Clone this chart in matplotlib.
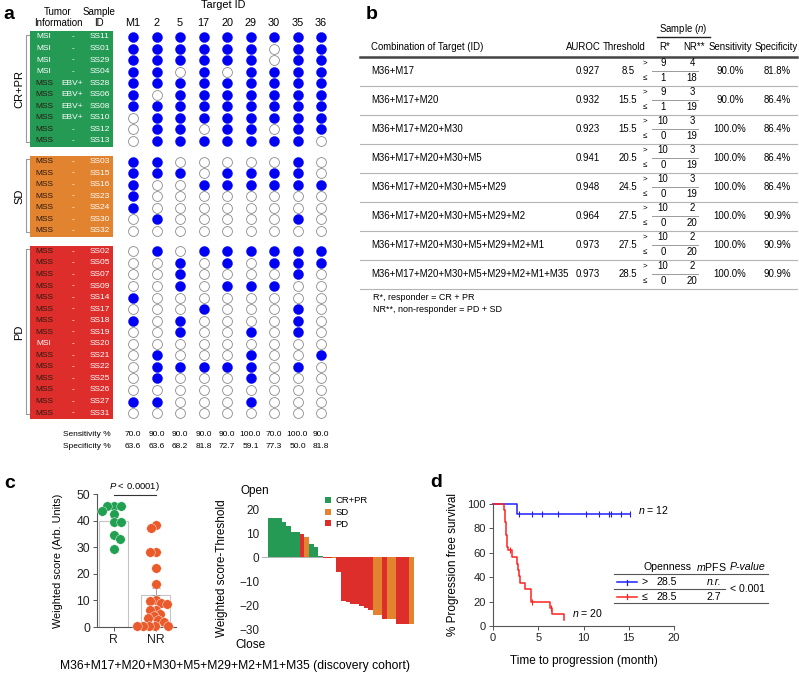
import numpy as np
import matplotlib
matplotlib.use("Agg")
import matplotlib.pyplot as plt
from matplotlib.patches import Rectangle, Patch

plt.rcParams['font.family'] = ['Liberation Sans', 'DejaVu Sans']
plt.rcParams['mathtext.fontset'] = 'custom'
plt.rcParams['mathtext.rm'] = 'Liberation Sans'
plt.rcParams['mathtext.it'] = 'Liberation Sans:italic'

W, H = 799, 677

# ---------------- panel a data ----------------
targets = ["M1", "2", "5", "17", "20", "29", "30", "35", "36"]

cr_ids = ["SS11", "SS01", "SS29", "SS04", "SS28", "SS06", "SS08", "SS10", "SS12", "SS13"]
cr_msi = ["MSI", "MSI", "MSI", "MSI", "MSS", "MSS", "MSS", "MSS", "MSS", "MSS"]
cr_ebv = ["-", "-", "-", "-", "EBV+", "EBV+", "EBV+", "EBV+", "-", "-"]
cr_hits = [[1, 1, 1, 1, 1, 1, 1, 1, 1],
           [1, 1, 1, 1, 1, 1, 0, 1, 1],
           [1, 1, 1, 1, 1, 1, 0, 1, 1],
           [1, 1, 0, 1, 0, 1, 1, 1, 1],
           [1, 1, 1, 1, 1, 1, 1, 1, 1],
           [1, 0, 1, 1, 1, 1, 1, 1, 1],
           [1, 1, 1, 1, 1, 1, 1, 1, 1],
           [0, 1, 1, 1, 1, 1, 1, 1, 1],
           [0, 1, 1, 0, 1, 1, 0, 1, 1],
           [0, 1, 1, 1, 1, 1, 1, 1, 0]]

sd_ids = ["SS03", "SS15", "SS16", "SS23", "SS24", "SS30", "SS32"]
sd_msi = ["MSS"] * 7
sd_ebv = ["-"] * 7
sd_hits = [[1, 1, 0, 0, 0, 0, 0, 1, 0],
           [1, 1, 1, 0, 1, 1, 1, 1, 0],
           [1, 0, 0, 1, 1, 1, 1, 1, 1],
           [1, 0, 0, 0, 0, 0, 0, 0, 0],
           [1, 0, 0, 0, 0, 0, 0, 0, 0],
           [0, 1, 0, 0, 0, 0, 0, 1, 0],
           [0, 0, 0, 0, 0, 0, 0, 0, 0]]

pd_ids = ["SS02", "SS05", "SS07", "SS09", "SS14", "SS17", "SS18", "SS19",
          "SS20", "SS21", "SS22", "SS25", "SS26", "SS27", "SS31"]
pd_msi = ["MSS"] * 8 + ["MSI"] + ["MSS"] * 6
pd_ebv = ["-"] * 15
pd_hits = [[0, 1, 0, 1, 1, 1, 1, 1, 1],
           [0, 0, 1, 0, 1, 0, 1, 1, 1],
           [0, 0, 1, 0, 0, 0, 0, 1, 0],
           [0, 0, 1, 0, 1, 1, 1, 0, 0],
           [1, 0, 0, 0, 0, 0, 0, 0, 0],
           [0, 0, 0, 1, 0, 0, 0, 1, 0],
           [1, 0, 1, 0, 0, 0, 0, 1, 0],
           [0, 0, 1, 0, 0, 1, 0, 1, 0],
           [0, 0, 0, 0, 0, 0, 0, 0, 0],
           [0, 1, 0, 0, 0, 1, 0, 0, 1],
           [0, 1, 1, 1, 1, 1, 0, 1, 0],
           [0, 1, 0, 0, 0, 1, 0, 0, 0],
           [0, 0, 0, 0, 0, 0, 0, 0, 0],
           [1, 1, 0, 0, 0, 1, 0, 0, 0],
           [0, 0, 0, 0, 0, 0, 0, 0, 0]]

sensitivity = [70.0, 90.0, 90.0, 90.0, 90.0, 100.0, 70.0, 100.0, 90.0]
specificity = [63.6, 63.6, 68.2, 81.8, 72.7, 59.1, 77.3, 50.0, 81.8]

# ---------------- panel b data ----------------
combos = ["M36+M17", "M36+M17+M20", "M36+M17+M20+M30", "M36+M17+M20+M30+M5",
          "M36+M17+M20+M30+M5+M29", "M36+M17+M20+M30+M5+M29+M2",
          "M36+M17+M20+M30+M5+M29+M2+M1", "M36+M17+M20+M30+M5+M29+M2+M1+M35"]
auroc = [0.927, 0.932, 0.923, 0.941, 0.948, 0.964, 0.973, 0.973]
threshold = [8.5, 15.5, 15.5, 20.5, 24.5, 27.5, 27.5, 28.5]
r_above = [9, 9, 10, 10, 10, 10, 10, 10]
r_below = [1, 1, 0, 0, 0, 0, 0, 0]
nr_above = [4, 3, 3, 3, 3, 2, 2, 2]
nr_below = [18, 19, 19, 19, 19, 20, 20, 20]
sens_b = [90.0, 90.0, 100.0, 100.0, 100.0, 100.0, 100.0, 100.0]
spec_b = [81.8, 86.4, 86.4, 86.4, 86.4, 90.9, 90.9, 90.9]

# ---------------- panel c data ----------------
r_scores = [45.5, 45.5, 45.5, 43.5, 42.5, 39.5, 39.5, 34.5, 33.0, 29.5]
nr_scores = [38.5, 37.2, 28.2, 28.2, 22.2, 16.2, 10.3, 9.6, 9.0, 8.5, 6.5, 6.3,
             5.0, 4.3, 3.5, 2.5, 2.0, 0.5, 0.4, 0.4, 0.3, 0.3]
bar_means = [39.7, 12.2]
bar_sem = [1.7, 2.6]

wf_vals = [16.4, 16.4, 16.4, 14.4, 13.0, 10.3, 10.3, 9.4, 8.5, 5.4, 4.3, 0.4,
           -0.4, -0.4, -0.4, -6.4, -18.2, -18.9, -19.5, -19.5, -20.3, -21.2, -22.2,
           -24.2, -24.2, -26.0, -26.0, -26.0, -28.1, -28.1, -28.1, -28.1]
wf_resp = ["CR+PR"] * 7 + ["PD", "SD", "CR+PR", "CR+PR", "CR+PR", "PD", "PD", "SD"] \
    + ["PD"] * 8 + ["SD", "SD", "PD", "SD", "SD", "PD", "PD", "PD", "SD"]

# ---------------- panel d data ----------------
hi_t = [0, 2.6, 15.1]
hi_s = [100, 91.7, 91.7]
hi_cens = [2.9, 4.3, 5.45, 7.15, 10.3, 11.75, 12.8, 13.0, 14.1, 15.1]
lo_t = [0, 1.25, 1.3, 1.35, 1.4, 1.45, 1.5, 1.55, 1.65, 2.15, 2.7, 2.8, 2.9, 3.0,
        3.55, 4.15, 4.2, 6.3, 6.5, 7.9]
lo_s = [100, 95, 90, 85, 80, 75, 70, 65, 61.9, 56.4, 51, 46, 41, 35.6,
        30.4, 25, 20, 15, 10, 5]
lo_cens = [1.9, 4.3, 6.4]

green = "#249a55"
orange = "#e2832f"
red = "#dd2e2c"
resp_col = {"CR+PR": green, "SD": orange, "PD": red}

fig = plt.figure(figsize=(W / 100, H / 100), dpi=100)


def px_axes(x0, y0, x1, y1):
    ax = fig.add_axes([x0 / W, 1 - y1 / H, (x1 - x0) / W, (y1 - y0) / H])
    ax.patch.set_alpha(0)
    return ax


cv = fig.add_axes([0, 0, 1, 1])
cv.set_xlim(0, W)
cv.set_ylim(H, 0)
cv.axis('off')
cv.set_zorder(10)

# ================= panel a =================
col_x0, col_dx = 133, 23.5
row_y0, row_dy = 37, 11.55
gap = 0.78


def axx(p):
    return (p - col_x0) / col_dx


def axy(p):
    return (p - row_y0) / row_dy


ax_a = px_axes(0, 0, 345, 455)
ax_a.set_xlim(axx(0), axx(345))
ax_a.set_ylim(axy(455), axy(0))
ax_a.axis('off')

cv.text(3, 19, "a", fontsize=14, fontweight='bold', ha='left', va='baseline')
ax_a.text(axx(223), axy(5), "Target ID", fontsize=7.8, ha='center', va='center')
ax_a.text(axx(58), axy(12), "Tumor", fontsize=7, ha='center', va='center')
ax_a.text(axx(58), axy(23), "Information", fontsize=7, ha='center', va='center')
ax_a.text(axx(99), axy(12), "Sample", fontsize=7, ha='center', va='center')
ax_a.text(axx(99), axy(23), "ID", fontsize=7, ha='center', va='center')
for j, t in enumerate(targets):
    ax_a.text(j, axy(23), t, fontsize=7.8, ha='center', va='center')

groups_a = [("CR+PR", cr_ids, cr_msi, cr_ebv, cr_hits),
            ("SD", sd_ids, sd_msi, sd_ebv, sd_hits),
            ("PD", pd_ids, pd_msi, pd_ebv, pd_hits)]
start = 0
for g, (name, ids, msi, ebv, hits) in enumerate(groups_a):
    ys = np.arange(len(ids)) + start + gap * g
    start += len(ids)
    ax_a.add_patch(Rectangle((axx(30), ys[0] - 0.5), axx(113) - axx(30), len(ids),
                             facecolor=resp_col[name], edgecolor='none'))
    for y, sid, m, e in zip(ys, ids, msi, ebv):
        ax_a.text(axx(44), y, m, fontsize=6, ha='center', va='center',
                  color='white' if m == "MSI" else '#2a1a12')
        ax_a.text(axx(72.5), y, e, fontsize=6, ha='center', va='center', color='white')
        ax_a.text(axx(100), y, sid, fontsize=6, ha='center', va='center', color='white')
    hits = np.array(hits)
    xx, yy = np.meshgrid(np.arange(len(targets)), ys)
    on = hits == 1
    ax_a.scatter(xx[on], yy[on], s=52, color='#0000f5', edgecolors='#0000f5',
                 linewidths=0.3, zorder=3)
    ax_a.scatter(xx[~on], yy[~on], s=50, facecolors='white', edgecolors='#8a8a8a',
                 linewidths=0.6, zorder=3)
    bx, tx = axx(25.5), axx(28.5)
    ax_a.plot([tx, bx, bx, tx], [ys[0] - 0.2, ys[0] - 0.2, ys[-1] + 0.1, ys[-1] + 0.1],
              color='#9a9a9a', lw=0.8)
    ax_a.text(axx(19), ys.mean(), name, rotation=90, fontsize=8, ha='center', va='center')

ax_a.text(axx(63), axy(434), "Sensitivity %", fontsize=6, ha='left', va='center')
ax_a.text(axx(63), axy(447), "Specificity %", fontsize=6, ha='left', va='center')
for j in range(len(targets)):
    ax_a.text(j, axy(434), f"{sensitivity[j]:.1f}", fontsize=6, ha='center', va='center')
    ax_a.text(j, axy(447), f"{specificity[j]:.1f}", fontsize=6, ha='center', va='center')

# ================= panel b =================
fs_b = 6.9
cv.text(366, 19, "b", fontsize=14, fontweight='bold', ha='left', va='baseline')
cv.text(683, 29, "Sample ($n$)", fontsize=fs_b, ha='center', va='center')
cv.plot([657, 710], [36.5, 36.5], color='#222222', lw=1.0)
heads = [(371, "Combination of Target (ID)", 'left'), (583, "AUROC", 'center'),
         (624, "Threshold", 'center'), (665, "R*", 'center'), (694, "NR**", 'center'),
         (730, "Sensitivity", 'center'), (776, "Specificity", 'center')]
for x, t, ha in heads:
    cv.text(x, 47, t, fontsize=fs_b, ha=ha, va='center')
cv.plot([360, 797], [57, 57], color='#444444', lw=1.8)
row_h = 29.05
for i in range(len(combos)):
    yc = 57 + row_h * (i + 0.5) - 1
    cv.text(371, yc, combos[i], fontsize=fs_b, ha='left', va='center')
    cv.text(588, yc, f"{auroc[i]:.3f}", fontsize=fs_b, ha='center', va='center')
    cv.text(628, yc, f"{threshold[i]:.1f}", fontsize=fs_b, ha='center', va='center')
    cv.text(645, yc - 7.5, ">", fontsize=5.8, ha='center', va='center')
    cv.text(645, yc + 7.5, "\u2264", fontsize=5.8, ha='center', va='center')
    cv.text(663, yc - 7.5, str(r_above[i]), fontsize=fs_b, ha='center', va='center')
    cv.text(663, yc + 7.5, str(r_below[i]), fontsize=fs_b, ha='center', va='center')
    cv.text(692, yc - 7.5, str(nr_above[i]), fontsize=fs_b, ha='center', va='center')
    cv.text(692, yc + 7.5, str(nr_below[i]), fontsize=fs_b, ha='center', va='center')
    cv.plot([652, 698], [yc + 0.5, yc + 0.5], color='#9a9a9a', lw=0.7)
    cv.text(730, yc, f"{sens_b[i]:.1f}%", fontsize=fs_b, ha='center', va='center')
    cv.text(777, yc, f"{spec_b[i]:.1f}%", fontsize=fs_b, ha='center', va='center')
    sep = 57 + row_h * (i + 1)
    cv.plot([360, 797], [sep, sep], color='#b4b4b4', lw=0.8)
cv.text(373, 297, "R*, responder = CR + PR", fontsize=6.5, ha='left', va='center')
cv.text(373, 310, "NR**, non-responder = PD + SD", fontsize=6.5, ha='left', va='center')

# ================= panel c (scores) =================
cv.text(4, 488, "c", fontsize=14, fontweight='bold', ha='left', va='baseline')
ax_c = px_axes(97, 494, 176, 627)
ax_c.set_xlim(-0.393, 1.487)
ax_c.set_ylim(0, 50)
ax_c.bar([0, 1], bar_means, width=0.67, facecolor='white', edgecolor='#c4c4c4',
         linewidth=0.8, zorder=1)
ax_c.errorbar([0, 1], bar_means, yerr=[[0, 0], bar_sem], fmt='none', ecolor='#9a9a9a',
              elinewidth=0.7, capsize=3, capthick=0.7, zorder=1)


def swarm(vals, yscale, min_d):
    placed = []
    offs = np.zeros(len(vals))
    steps = np.arange(0.5, 60, 0.5)
    for i, v in enumerate(vals):
        y = v * yscale
        cands = [0.0]
        for k in steps:
            cands += [k, -k] if i % 2 == 0 else [-k, k]
        for c in cands:
            if all((c - a) ** 2 + (y - b) ** 2 >= min_d ** 2 for a, b in placed):
                offs[i] = c
                placed.append((c, y))
                break
    return offs


xscale = 79 / 1.88
yscale = 133 / 50
xr = 0 + swarm(r_scores, yscale, 7.0) / xscale
xn = 1 + swarm(nr_scores, yscale, 6.0) / xscale
ax_c.scatter(xr, r_scores, s=47, color='#22a052', edgecolors='white', linewidths=0.3,
             zorder=3, clip_on=False)
ax_c.scatter(xn, nr_scores, s=47, color='#ea5a2b', edgecolors='white', linewidths=0.3,
             zorder=3, clip_on=False)
ax_c.plot([0, 1], [49.6, 49.6], color='#333333', lw=0.8, clip_on=False)
ax_c.text(0.5, 52.8, "$P$ < 0.0001)", fontsize=6.8, ha='center', va='center')
for s in ['top', 'right']:
    ax_c.spines[s].set_visible(False)
for s in ['left', 'bottom']:
    ax_c.spines[s].set_color('#555555')
    ax_c.spines[s].set_linewidth(0.8)
ax_c.set_yticks(range(0, 51, 10))
ax_c.set_xticks([0, 1])
ax_c.set_xticklabels(["R", "NR"])
ax_c.tick_params(labelsize=8.8, length=3, width=0.7, color='#555555', pad=2,
                 labelcolor='#222222')
ax_c.set_ylabel("Weighted score (Arb. Units)", fontsize=7.8)
ax_c.yaxis.set_label_coords(-0.43, 0.5)

# ================= panel c (waterfall) =================
ax_w = px_axes(262, 506.6, 414, 629)
ax_w.set_xlim(-1.8, 31.5)
ax_w.set_ylim(-30, 21)
ax_w.bar(np.arange(len(wf_vals)), wf_vals, width=1.0,
         color=[resp_col[r] for r in wf_resp], linewidth=0, zorder=2)
ax_w.axhline(0, color='#b0b0b0', lw=0.7, zorder=1)
for s in ax_w.spines.values():
    s.set_visible(False)
ax_w.set_xticks([])
ax_w.set_yticks([20, 10, 0, -10, -20, -30])
ax_w.tick_params(axis='y', length=0, labelsize=8.5, pad=2, labelcolor='#222222')
ax_w.set_ylabel("Weighted score-Threshold", fontsize=8.5)
ax_w.yaxis.set_label_coords(-0.225, 0.5)
handles = [Patch(facecolor=resp_col[k], edgecolor='none') for k in ["CR+PR", "SD", "PD"]]
ax_w.legend(handles, ["CR+PR", "SD", "PD"], loc='upper left', frameon=False,
            fontsize=6.8, handlelength=0.6, handleheight=0.6, handletextpad=0.5,
            labelspacing=0.3, borderpad=0, borderaxespad=0,
            bbox_to_anchor=(325 / W, 1 - 496 / H), bbox_transform=fig.transFigure)
cv.text(255, 491, "Open", fontsize=8.5, ha='center', va='center')
cv.text(250, 645, "Close", fontsize=8.5, ha='center', va='center')

cv.text(235, 666, "M36+M17+M20+M30+M5+M29+M2+M1+M35 (discovery cohort)",
        fontsize=8.7, ha='center', va='center')

# ================= panel d =================
cv.text(430, 487, "d", fontsize=14, fontweight='bold', ha='left', va='baseline')
ax_d = px_axes(493, 504, 674, 626)
ax_d.set_xlim(0, 20)
ax_d.set_ylim(0, 100)
blue = "#1f1fff"
red_k = "#ff2222"
ax_d.step(hi_t, hi_s, where='post', color=blue, lw=1.1, clip_on=False)
ax_d.step(lo_t, lo_s, where='post', color=red_k, lw=1.1, clip_on=False)


def step_val(ts, ss, t):
    return ss[np.searchsorted(ts, t, side='right') - 1]


ax_d.plot(hi_cens, [step_val(hi_t, hi_s, t) for t in hi_cens], linestyle='none',
          marker='|', ms=4, mew=0.8, color=blue, clip_on=False)
ax_d.plot(lo_cens, [step_val(lo_t, lo_s, t) for t in lo_cens], linestyle='none',
          marker='|', ms=4, mew=0.8, color=red_k, clip_on=False)
for s in ['top', 'right']:
    ax_d.spines[s].set_visible(False)
for s in ['left', 'bottom']:
    ax_d.spines[s].set_color('#555555')
    ax_d.spines[s].set_linewidth(0.8)
ax_d.set_xticks([0, 5, 10, 15, 20])
ax_d.set_yticks([0, 20, 40, 60, 80, 100])
ax_d.tick_params(labelsize=8, length=3, width=0.7, color='#555555', pad=2,
                 labelcolor='#222222')
ax_d.set_xlabel("Time to progression (month)", fontsize=8.5)
ax_d.xaxis.set_label_coords(0.5, -0.24)
ax_d.set_ylabel("% Progression free survival", fontsize=8.5)
ax_d.yaxis.set_label_coords(-0.19, 0.5)

cv.text(638, 510, "$n$ = 12", fontsize=7.6, ha='left', va='center')
cv.text(572, 613, "$n$ = 20", fontsize=7.6, ha='left', va='center')

# legend table
fs_d = 7.6
cv.text(667, 567, "Openness", fontsize=fs_d, ha='center', va='center')
cv.text(711, 567, "$m$PFS", fontsize=fs_d, ha='center', va='center')
cv.text(748, 567, "P-value", fontsize=fs_d, ha='center', va='center', style='italic')
cv.plot([614, 768], [574, 574], color='#555555', lw=0.8)
cv.plot([614, 725], [589, 589], color='#555555', lw=0.8)
cv.plot([614, 768], [602.5, 602.5], color='#555555', lw=0.8)
for y, col, sym, mp in [(582, blue, ">", "n.r."), (596.5, red_k, "\u2264", "2.7")]:
    cv.plot([617, 637], [y, y], color=col, lw=1.1)
    cv.plot([627, 627], [y - 2.5, y + 2.5], color=col, lw=0.9)
    cv.text(642, y, sym, fontsize=fs_d, ha='left', va='center')
    cv.text(667, y, "28.5", fontsize=fs_d, ha='center', va='center')
    cv.text(714, y, mp, fontsize=fs_d, ha='center', va='center',
            style='italic' if mp == "n.r." else 'normal')
cv.text(747, 589, "< 0.001", fontsize=fs_d, ha='center', va='center')

fig.savefig("out.png", dpi=100)
